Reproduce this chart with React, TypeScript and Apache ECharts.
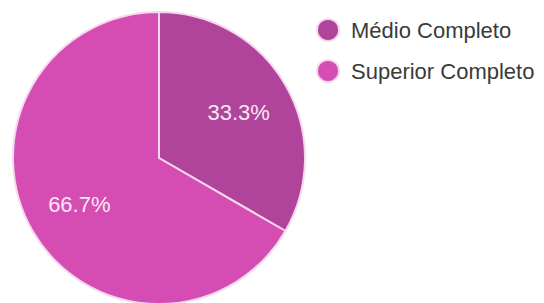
import React, { useEffect, useRef } from "react";
import * as echarts from "echarts";

const categories = ["Médio Completo", "Superior Completo"];
const values = [1, 2];
const colors = ["#b0449b", "#d54db3"];

export default function App() {
  const ref = useRef<HTMLDivElement>(null);
  useEffect(() => {
    if (!ref.current) return;
    const chart = echarts.init(ref.current, null, { renderer: "svg" });
    const data = categories.map((name, i) => ({ name, value: values[i], itemStyle: { color: colors[i] } }));
    chart.setOption({
      animation: false,
      legend: {
        orient: "vertical",
        left: 311,
        top: 13,
        icon: "circle",
        itemWidth: 22,
        itemHeight: 22,
        itemGap: 17,
        data: categories.map((name, i) => ({ name, itemStyle: { color: colors[i] } })),
        textStyle: { fontFamily: "Liberation Sans, Arial", fontSize: 22, color: "#3a3a3a", padding: [0, 0, 0, 7] },
      },
      series: [
        {
          type: "pie",
          center: [159, 158],
          radius: 146,
          startAngle: 90,
          clockwise: true,
          silent: true,
          label: { show: false },
          labelLine: { show: false },
          itemStyle: { borderColor: "#f6d8ee", borderWidth: 2 },
          data,
        },
        {
          type: "pie",
          center: [159, 158],
          radius: 178,
          startAngle: 90,
          clockwise: true,
          silent: true,
          percentPrecision: 1,
          itemStyle: { color: "transparent", borderWidth: 0 },
          label: {
            show: true,
            position: "inside",
            formatter: "{d}%",
            fontFamily: "Liberation Sans, Arial",
            fontSize: 22,
            color: "#f8e8f4",
          },
          labelLine: { show: false },
          data: categories.map((name, i) => ({ name, value: values[i], itemStyle: { color: "transparent" } })),
        },
      ],
    });
    return () => chart.dispose();
  }, []);
  return <div ref={ref} style={{ position: "absolute", left: 0, top: 0, width: 544, height: 303 }} />;
}
